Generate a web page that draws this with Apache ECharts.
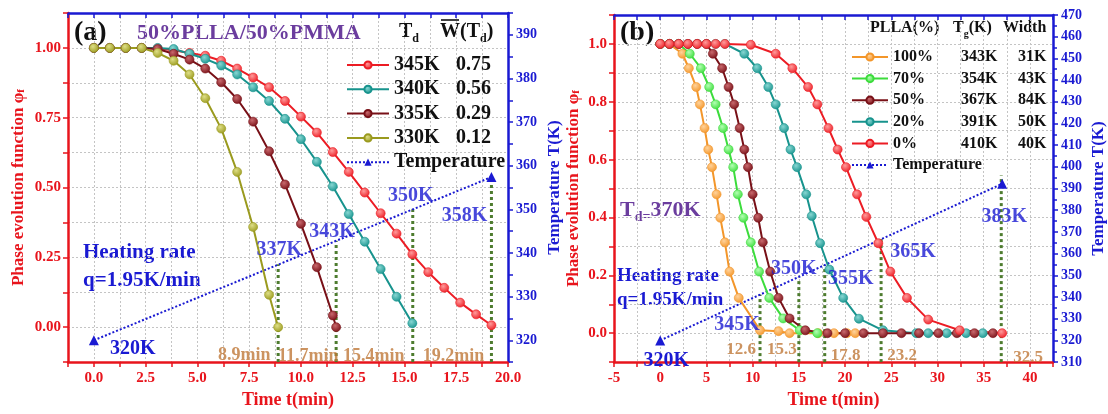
<!DOCTYPE html>
<html>
<head>
<meta charset="utf-8">
<script src="https://cdn.jsdelivr.net/npm/echarts@6/dist/echarts.min.js"></script>
<style>
  html, body { margin: 0; padding: 0; background: #fff; }
  #chart { width: 1108px; height: 414px; }
</style>
</head>
<body>
<div id="chart"></div>
<script>
// ---------- panel (a): 50%PLLA/50%PMMA ----------
const tdNames = ['345K', '340K', '335K', '330K']
const wBar = ['0.75', '0.56', '0.29', '0.12']

const tA345 = [0, 0.77, 1.54, 2.31, 3.08, 3.85, 4.62, 5.38, 6.15, 6.92, 7.69, 8.46, 9.23, 10.0, 10.77, 11.54, 12.31, 13.08, 13.85, 14.62, 15.38, 16.15, 16.92, 17.69, 18.46, 19.2]
const phiA345 = [1, 1, 1, 1, 0.998, 0.992, 0.982, 0.972, 0.954, 0.926, 0.894, 0.859, 0.81, 0.754, 0.697, 0.627, 0.556, 0.482, 0.408, 0.335, 0.261, 0.197, 0.141, 0.088, 0.046, 0.007]
const tA340 = [0, 0.77, 1.54, 2.31, 3.08, 3.85, 4.62, 5.38, 6.15, 6.92, 7.69, 8.46, 9.23, 10.0, 10.77, 11.54, 12.31, 13.08, 13.85, 14.62, 15.38]
const phiA340 = [1, 1, 1, 1, 1, 0.996, 0.979, 0.961, 0.937, 0.905, 0.859, 0.81, 0.746, 0.673, 0.592, 0.504, 0.405, 0.306, 0.208, 0.109, 0.014]
const tA335 = [0, 0.77, 1.54, 2.31, 3.08, 3.85, 4.62, 5.38, 6.15, 6.92, 7.69, 8.46, 9.23, 10.0, 10.77, 11.54, 11.7]
const phiA335 = [1, 1, 1, 1, 0.996, 0.979, 0.958, 0.926, 0.877, 0.817, 0.736, 0.63, 0.511, 0.37, 0.215, 0.042, 0]
const tA330 = [0, 0.77, 1.54, 2.31, 3.08, 3.85, 4.62, 5.38, 6.15, 6.92, 7.69, 8.46, 8.9]
const phiA330 = [1, 1, 1, 1, 0.982, 0.954, 0.905, 0.82, 0.711, 0.556, 0.359, 0.116, 0]

const tempTimeA = [0, 19.2]
const tempA = [320, 357.4]
const markTimeA = [8.9, 11.7, 15.4, 19.2]
const markTempA = [337.4, 342.8, 350.0, 357.4]
const markKA = ['337K', '343K', '350K', '358K']
const markMinA = ['8.9min', '11.7min', '15.4min', '19.2min']

// ---------- panel (b): Td = 370K ----------
const pllaNames = ['100%', '70%', '50%', '20%', '0%']
const tgB = ['343K', '354K', '367K', '391K', '410K']
const widthB = ['31K', '43K', '84K', '50K', '40K']

const tB100 = [0, 1, 2.4, 3.1, 3.9, 4.3, 4.8, 5.2, 5.6, 6.1, 6.5, 7.0, 7.5, 8.5, 10.8, 12.8, 14.0, 17.1, 18.8, 20.2, 21.1]
const phiB100 = [1, 1, 0.966, 0.916, 0.851, 0.791, 0.709, 0.635, 0.574, 0.48, 0.399, 0.314, 0.213, 0.122, 0.01, 0.007, 0, 0, 0, 0, 0]
const tB70 = [0, 1, 2, 3.2, 4.4, 5.3, 6.0, 6.8, 7.4, 7.9, 8.4, 9.0, 9.8, 10.7, 11.8, 13.3, 15.1, 17.0]
const phiB70 = [1, 1, 1, 0.966, 0.916, 0.851, 0.791, 0.709, 0.635, 0.574, 0.48, 0.399, 0.314, 0.213, 0.122, 0.051, 0.01, 0]
const tB50 = [0, 1, 2, 3, 4, 5, 5.7, 6.7, 7.4, 8.0, 8.6, 9.1, 9.5, 10.0, 10.6, 11.1, 11.9, 12.8, 14.0, 15.7, 18.1, 20.0, 22.0, 24.1, 26.1, 28.0, 30.1, 32.1, 34.0, 36.0]
const phiB50 = [1, 1, 1, 1, 1, 1, 0.966, 0.916, 0.851, 0.791, 0.709, 0.635, 0.574, 0.48, 0.399, 0.314, 0.213, 0.122, 0.051, 0.01, 0, 0, 0, 0, 0, 0, 0, 0, 0, 0]
const tB20 = [0, 1, 2, 3, 4, 5, 6, 7, 9.1, 10.5, 11.7, 12.5, 13.4, 14.1, 14.8, 15.8, 16.4, 17.3, 18.3, 19.8, 21.5, 24.1, 27.7, 29.0, 31.0, 33.1, 34.9]
const phiB20 = [1, 1, 1, 1, 1, 1, 1, 1, 0.966, 0.916, 0.851, 0.791, 0.709, 0.635, 0.574, 0.48, 0.405, 0.311, 0.22, 0.122, 0.05, 0.01, 0, 0, 0, 0, 0]
const tB0 = [0, 1, 2, 3, 4, 5, 6, 7, 9.8, 12.5, 14.3, 16.0, 17.0, 18.2, 19.2, 20.1, 21.3, 22.3, 23.6, 24.9, 26.7, 29.0, 32.4, 37.0]
const phiB0 = [1, 1, 1, 1, 1, 1, 1, 1, 0.997, 0.966, 0.916, 0.851, 0.791, 0.709, 0.635, 0.574, 0.48, 0.402, 0.311, 0.213, 0.122, 0.047, 0.01, 0]

const tempTimeB = [0, 37]
const tempB = [320, 392.2]
const markTimeB = [10.8, 15.0, 17.8, 23.9, 36.9]
const markTempB = [341.2, 348.9, 354.7, 367.0, 396.0]
const markKB = ['345K', '350K', '355K', '365K', '383K']
const markMinB = ['12.6', '15.3', '17.8', '23.2', '32.5']

// ---------- styling ----------
const FONT = '"Liberation Serif", "Times New Roman", serif'
const RED = '#e8141c'
const BLUE = '#1a1ad2'
const DKGREEN = '#4e7c2f'
const COPPER = '#bf7838'
const PURPLE = '#6b3d9e'
const GRIDLINE = { show: true, lineStyle: { color: '#c4c4c4', type: [2, 2], width: 1 } }

// label nudges (px) for the annotations, in drawing order
const kOffA = [[1, -15], [-4, -9], [-2, -14], [-27, 39]]
const minOffA = [[-34, -7], [-28, -6], [-39, -6], [-38, -6]]
const kOffB = [[-23, 30], [-5, -9], [26, 14], [32, 13], [3, 41]]
const minOffB = [[-19, -12], [-17, -12], [21, -6], [21, -6], [27, -4]]

function ball (base, light) {
  return new echarts.graphic.RadialGradient(0.4, 0.35, 0.7, [
    { offset: 0, color: light }, { offset: 1, color: base }
  ])
}

function curve (name, ts, ps, color, light, g) {
  return {
    name: name, type: 'line', xAxisIndex: g * 2, yAxisIndex: g * 2,
    data: ts.map((t, i) => [t, ps[i]]),
    symbol: 'circle', symbolSize: 9,
    lineStyle: { color: color, width: 2 },
    itemStyle: { color: ball(color, light), borderColor: color, borderWidth: 0.6 },
    z: 3
  }
}

function tempLine (name, ts, vs, g, startOff) {
  return {
    name: name, type: 'line', xAxisIndex: g * 2, yAxisIndex: g * 2 + 1,
    data: ts.map((t, i) => i === 0
      ? { value: [t, vs[i]], label: { show: true, offset: startOff } }
      : [t, vs[i]]),
    symbol: 'triangle', symbolSize: 10,
    lineStyle: { color: BLUE, width: 2, type: 'dotted' },
    itemStyle: { color: BLUE },
    label: {
      show: false, position: 'inside', formatter: '320K',
      color: BLUE, fontFamily: FONT, fontWeight: 'bold', fontSize: 20
    },
    z: 2
  }
}

function drops (ts, tops, floor, g) {
  return ts.map((t, i) => ({
    type: 'line', xAxisIndex: g * 2, yAxisIndex: g * 2 + 1, silent: true,
    data: [[t, floor], [t, tops[i]]], symbol: 'none',
    lineStyle: { color: DKGREEN, width: 3, type: [3, 3] }, z: 1
  }))
}

function tags (ts, vs, texts, offs, color, size, g) {
  return {
    type: 'scatter', xAxisIndex: g * 2, yAxisIndex: g * 2 + 1, silent: true,
    symbolSize: 1, itemStyle: { color: 'rgba(0,0,0,0)' },
    data: ts.map((t, i) => ({ value: [t, Array.isArray(vs) ? vs[i] : vs], label: { offset: offs[i] } })),
    label: {
      show: true, position: 'inside', formatter: p => texts[p.dataIndex],
      color: color, fontFamily: FONT, fontWeight: 'bold', fontSize: size
    },
    z: 5
  }
}

const onStep = (v, s) => Math.abs(v / s - Math.round(v / s)) < 1e-6

function xBottom (g, min, max, step, fmt) {
  return {
    type: 'value', gridIndex: g, position: 'bottom', min: min, max: max, interval: step,
    name: 'Time t(min)', nameLocation: 'middle', nameGap: 27,
    nameTextStyle: { color: RED, fontFamily: FONT, fontWeight: 'bold', fontSize: 18 },
    axisLine: { onZero: false, lineStyle: { color: RED, width: 2.5 } },
    axisTick: { inside: false, length: 5, lineStyle: { color: RED, width: 1.5 } },
    axisLabel: { color: RED, fontFamily: FONT, fontWeight: 'bold', fontSize: 15, margin: 9, formatter: fmt },
    splitLine: GRIDLINE
  }
}

function xTop (g, min, max, step) {
  return {
    type: 'value', gridIndex: g, position: 'top', min: min, max: max, interval: step,
    axisLine: { onZero: false, lineStyle: { color: BLUE, width: 2.5 } },
    axisTick: { inside: true, length: 5, lineStyle: { color: BLUE, width: 1.5 } },
    axisLabel: { show: false }, splitLine: { show: false }
  }
}

function yLeft (g, min, max, step, fmt, gap) {
  return {
    type: 'value', gridIndex: g, position: 'left', min: min, max: max, interval: step,
    name: 'Phase evolution function φ{sub|f}', nameLocation: 'middle', nameGap: gap, nameRotate: 90,
    nameTextStyle: {
      color: RED, fontFamily: FONT, fontWeight: 'bold', fontSize: 17,
      rich: { sub: { color: RED, fontFamily: FONT, fontWeight: 'bold', fontSize: 11, lineHeight: 11, verticalAlign: 'bottom' } }
    },
    axisLine: { onZero: false, lineStyle: { color: RED, width: 2.5 } },
    axisTick: { inside: false, length: 5, lineStyle: { color: RED, width: 1.5 } },
    axisLabel: { color: RED, fontFamily: FONT, fontWeight: 'bold', fontSize: 15, margin: 7, formatter: fmt },
    splitLine: GRIDLINE
  }
}

function yRight (g, min, max, step, fmt, gap, minor) {
  return {
    type: 'value', gridIndex: g, position: 'right', min: min, max: max, interval: step,
    name: 'Temperature T(K)', nameLocation: 'middle', nameGap: gap, nameRotate: 90,
    nameTextStyle: { color: BLUE, fontFamily: FONT, fontWeight: 'bold', fontSize: 17 },
    axisLine: { onZero: false, lineStyle: { color: BLUE, width: 2.5 } },
    axisTick: { inside: false, length: 5, lineStyle: { color: BLUE, width: 1.5 } },
    minorTick: { show: minor, splitNumber: 2, length: 4, lineStyle: { color: BLUE, width: 1.5 } },
    axisLabel: { color: BLUE, fontFamily: FONT, fontWeight: 'bold', fontSize: 14, margin: 8, formatter: fmt },
    splitLine: { show: false }
  }
}

const legendText = (size, rich) => ({
  fontFamily: FONT, fontWeight: 'bold', fontSize: size, color: '#111', lineHeight: size, rich: rich
})
const richCell = (size, w) => ({ fontFamily: FONT, fontWeight: 'bold', fontSize: size, color: '#111', width: w })

const sub = (text, x, y, size, color) => ({
  type: 'text', x: x, y: y, silent: true,
  style: {
    text: text, verticalAlign: 'middle',
    rich: {
      m: { font: 'bold ' + size + 'px ' + FONT, fill: color, lineHeight: size + 6, verticalAlign: 'middle' },
      s: { font: 'bold ' + Math.round(size * 0.62) + 'px ' + FONT, fill: color, lineHeight: Math.round(size * 0.62), verticalAlign: 'bottom' }
    }
  }
})
const txt = (text, x, y, size, color) => ({
  type: 'text', x: x, y: y, silent: true,
  style: { text: text, font: 'bold ' + size + 'px ' + FONT, fill: color, verticalAlign: 'middle' }
})

let myChart = echarts.init(document.getElementById('chart'))
myChart.setOption({
  animation: false,
  grid: [
    { left: 68, top: 13, width: 440, height: 354 },
    { left: 614, top: 15, width: 439, height: 354 }
  ],
  xAxis: [
    xBottom(0, -1.25, 20, 1.25, v => (v >= 0 && onStep(v, 2.5)) ? v.toFixed(1) : ''),
    xTop(0, -1.25, 20, 1.25),
    xBottom(1, -5, 42.5, 2.5, v => onStep(v, 5) ? String(Math.round(v)) : ''),
    xTop(1, -5, 42.5, 2.5)
  ],
  yAxis: [
    yLeft(0, -0.125, 1.125, 0.125, v => (v > -0.01 && v < 1.01 && onStep(v, 0.25)) ? v.toFixed(2) : '', 41),
    yRight(0, 315, 395, 5, v => onStep(v, 10) ? String(Math.round(v)) : '', 38, false),
    yLeft(1, -0.1, 1.1, 0.1, v => (v > -0.01 && v < 1.01 && onStep(v, 0.2)) ? v.toFixed(1) : '', 32),
    yRight(1, 310, 470, 10, v => String(Math.round(v)), 37, true)
  ],
  legend: [
    {
      left: 341, top: 50, orient: 'vertical', itemWidth: 42, itemHeight: 9, itemGap: 4.3,
      selectedMode: false, data: tdNames.concat(['Temperature']),
      textStyle: legendText(20, { n: richCell(20, 62), v: richCell(20, 50) }),
      formatter: name => {
        const i = tdNames.indexOf(name)
        return i < 0 ? 'Temperature' : '{n|' + name + '}{v|' + wBar[i] + '}'
      }
    },
    {
      left: 846, top: 44, orient: 'vertical', itemWidth: 36, itemHeight: 9, itemGap: 5.6,
      selectedMode: false, data: pllaNames.concat(['TemperatureB']),
      textStyle: legendText(16, { p: richCell(16, 68), g: richCell(16, 57), w: richCell(16, 40) }),
      formatter: name => {
        const i = pllaNames.indexOf(name)
        return i < 0 ? 'Temperature' : '{p|' + name + '}{g|' + tgB[i] + '}{w|' + widthB[i] + '}'
      }
    }
  ],
  graphic: [
    txt('(a)', 74, 33, 28, '#111'),
    txt('50%PLLA/50%PMMA', 137, 33, 22, PURPLE),
    sub('{m|T}{s|d}', 399, 32, 20, '#111'),
    sub('{m|W(T}{s|d}{m|)}', 440, 32, 20, '#111'),
    { type: 'line', silent: true, shape: { x1: 441, y1: 20, x2: 459, y2: 20 }, style: { stroke: '#111', lineWidth: 1.6 } },
    txt('Heating rate', 83, 253, 21, BLUE),
    txt('q=1.95K/min', 83, 281, 21, BLUE),
    txt('(b)', 620, 33, 28, '#111'),
    txt('PLLA(%)', 870, 28, 16, '#111'),
    sub('{m|T}{s|g}{m|(K)}', 953, 28, 16, '#111'),
    txt('Width', 1003, 28, 16, '#111'),
    sub('{m|T}{s|d=}{m|370K}', 620, 210, 22, PURPLE),
    txt('Heating rate', 617, 276, 19, BLUE),
    txt('q=1.95K/min', 617, 300, 19, BLUE)
  ],
  series: [
    ...drops(markTimeA, markTempA, 315, 0),
    curve('345K', tA345, phiA345, '#ec1c24', '#ff9a9a', 0),
    curve('340K', tA340, phiA340, '#17938d', '#86d6d2', 0),
    curve('335K', tA335, phiA335, '#781017', '#c8686c', 0),
    curve('330K', tA330, phiA330, '#9a9a1e', '#dede86', 0),
    tempLine('Temperature', tempTimeA, tempA, 0, [39, 9]),
    tags(markTimeA, markTempA, markKA, kOffA, BLUE, 20, 0),
    tags(markTimeA, 315, markMinA, minOffA, COPPER, 18, 0),

    ...drops(markTimeB, markTempB, 310, 1),
    curve('100%', tB100, phiB100, '#f3962a', '#ffd29a', 1),
    curve('70%', tB70, phiB70, '#3cdc3c', '#b2ffb2', 1),
    curve('20%', tB20, phiB20, '#17938d', '#86d6d2', 1),
    curve('50%', tB50, phiB50, '#781017', '#c8686c', 1),
    curve('0%', tB0, phiB0, '#ec1c24', '#ff9a9a', 1),
    tempLine('TemperatureB', tempTimeB, tempB, 1, [6, 20]),
    tags(markTimeB, markTempB, markKB, kOffB, BLUE, 20, 1),
    tags(markTimeB, 310, markMinB, minOffB, COPPER, 17, 1)
  ]
})
</script>
</body>
</html>
